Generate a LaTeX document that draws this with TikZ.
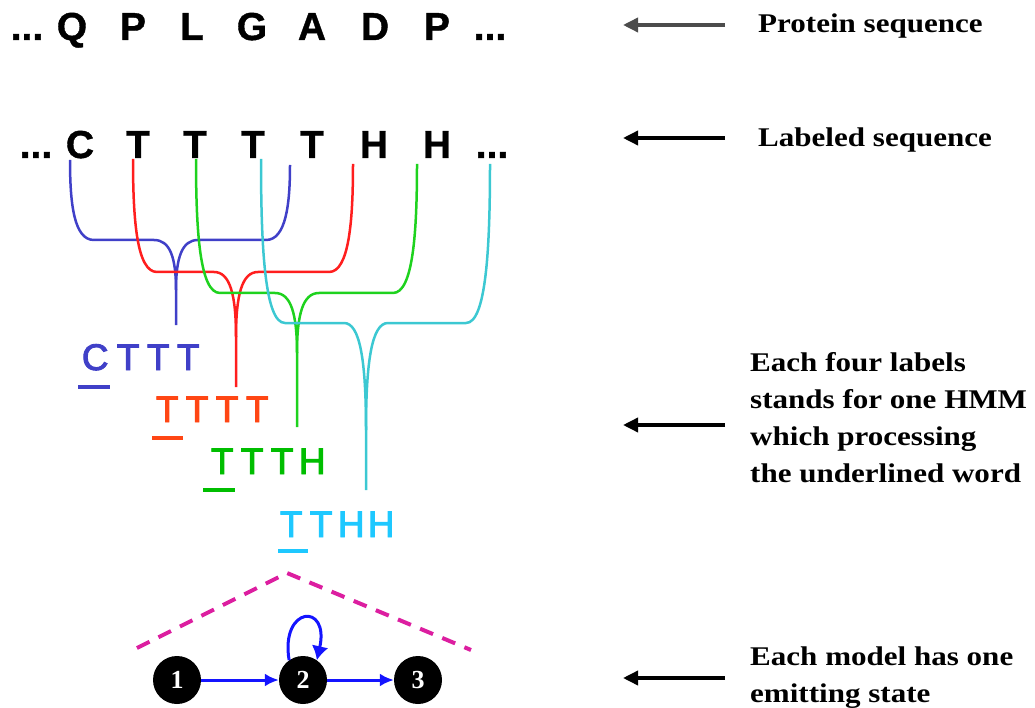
\documentclass[tikz,border=0pt]{standalone}
\usepackage{fontspec}
\setmainfont{Liberation Serif}
\newfontfamily\sansB{Liberation Sans}[FakeBold=1]
\newfontfamily\sansM{Liberation Sans}[FakeBold=2.5]
\newfontfamily\labfont{Liberation Serif}[FakeStretch=1.15]
\usetikzlibrary{arrows.meta}
\definecolor{blueC}{RGB}{64,64,200}
\definecolor{redC}{RGB}{255,30,30}
\definecolor{redL}{RGB}{255,70,20}
\definecolor{greenC}{RGB}{30,210,30}
\definecolor{greenL}{RGB}{0,190,0}
\definecolor{cyanC}{RGB}{60,200,210}
\definecolor{cyanL}{RGB}{30,200,255}
\definecolor{mag}{RGB}{220,30,160}
\definecolor{arrblue}{RGB}{20,20,255}
\tikzset{
  big/.style={font=\sansB\bfseries\fontsize{39}{48}\selectfont, inner sep=0pt, anchor=base},
  word/.style={font=\sansM\fontsize{37}{44}\selectfont, inner sep=0pt, anchor=base west},
  lab/.style={font=\labfont\bfseries\fontsize{27}{37}\selectfont, inner sep=0pt, anchor=base west, align=left},
  ptr/.style={line width=3.5pt, -{Triangle[length=15pt,width=14pt]}},
  st/.style={circle, fill=black, minimum size=48pt, inner sep=0pt, text=white, font=\bfseries\fontsize{26}{30}\selectfont},
  tr/.style={draw=arrblue, line width=3pt, -{Latex[length=14pt,width=13pt]}},
  looptr/.style={draw=arrblue, line width=3pt, -{Latex[length=14pt,width=17pt]}},
  br/.style={line width=2.5pt},
  uline/.style={line width=4pt},
}
\newcommand\lb[2][30pt]{\makebox[#1]{#2}}
\newcommand\hmmbr[8]{%
  \draw[br,#1] (#2,#3) .. controls ({#2},{#5-0.45*(#5-#3)}) and ({#2+4},#5) .. ({#2+24},#5)
     -- ({#6-22},#5) .. controls ({#6-6},#5) and (#6,{#5+0.35*(#7-#5)}) .. (#6,#7) -- (#6,#8);
  \draw[br,#1] (#4,{#3+5}) .. controls ({#4},{#5-0.45*(#5-#3)}) and ({#4-4},#5) .. ({#4-24},#5)
     -- ({#6+22},#5) .. controls ({#6+6},#5) and (#6,{#5+0.35*(#7-#5)}) .. (#6,#7);
}
\begin{document}
\begin{tikzpicture}[x=1pt,y=-1pt]
\useasboundingbox (0,0) rectangle (1035,708);
% protein sequence
\node[big] (pd1) at (27,40) {...};
\node[big] (p1) at (72,40) {Q};
\node[big] (p2) at (133,40) {P};
\node[big] (p3) at (192,40) {L};
\node[big] (p4) at (252,40) {G};
\node[big] (p5) at (312,40) {A};
\node[big] (p6) at (375,40) {D};
\node[big] (p7) at (437,40) {P};
\node[big] (pd2) at (490,40) {...};
% labeled sequence
\node[big] (ld1) at (36,158) {...};
\node[big] (l1) at (80,158) {C};
\node[big] (l2) at (138,158) {T};
\node[big] (l3) at (195,158) {T};
\node[big] (l4) at (253,158) {T};
\node[big] (l5) at (312,158) {T};
\node[big] (l6) at (374,158) {H};
\node[big] (l7) at (437,158) {H};
\node[big] (ld2) at (492,158) {...};
% braces
\hmmbr{blueC}{70}{160}{290}{240}{176}{290}{325}
\hmmbr{redC}{133}{159}{353}{272}{236}{337}{387}
\hmmbr{greenC}{196}{159}{417}{293}{297}{353}{427}
\hmmbr{cyanC}{261}{159}{490}{323}{366}{430}{490}
% words
\node[word,text=blueC] (w1) at (77,370) {\lb[36pt]{C}\lb{T}\lb{T}\lb{T}};
\node[word,text=redL] (w2) at (152,422) {\lb{T}\lb{T}\lb{T}\lb{T}};
\node[word,text=greenL] (w3) at (207,474) {\lb{T}\lb{T}\lb{T}\lb{H}};
\node[word,text=cyanL] (w4) at (276,537) {\lb{T}\lb{T}\lb{H}\lb{H}};
\draw[uline,blueC] (78,387) -- (110,387);
\draw[uline,redL] (152,438) -- (183,438);
\draw[uline,greenL] (203,490) -- (235,490);
\draw[uline,cyanL] (278,551) -- (308,551);
% dashed triangle
\draw[mag,line width=4pt,dash pattern=on 14pt off 10pt] (137,648) -- (287,573) -- (471,650);
% HMM states
\node[st] (s1) at (177,680) {1};
\node[st] (s2) at (303,680) {2};
\node[st] (s3) at (418,680) {3};
\draw[tr] (s1) -- (s2);
\draw[tr] (s2) -- (s3);
\draw[looptr] (s2.125) .. controls (280,606) and (330,602) .. (s2.55);
% right labels
\node[lab] (t1) at (758,33) {Protein sequence};
\node[lab] (t2) at (758,147) {Labeled sequence};
\node[lab] (t3) at (750,482) {Each four labels\\stands for one HMM\\which processing\\the underlined word};
\node[lab] (t4) at (750,702) {Each model has one\\emitting state};
\coordinate (a1s) at (725,25); \coordinate (a1e) at (623,25);
\coordinate (a2s) at (725,138); \coordinate (a2e) at (623,138);
\coordinate (a3s) at (725,425); \coordinate (a3e) at (623,425);
\coordinate (a4s) at (725,678); \coordinate (a4e) at (623,678);
\draw[ptr,black!70] (a1s) -- (a1e);
\draw[ptr] (a2s) -- (a2e);
\draw[ptr] (a3s) -- (a3e);
\draw[ptr] (a4s) -- (a4e);
\end{tikzpicture}
\end{document}
